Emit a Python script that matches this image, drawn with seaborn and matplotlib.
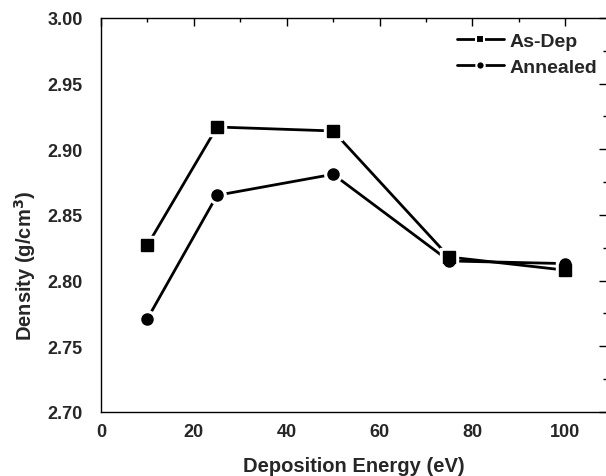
import matplotlib
matplotlib.use("Agg")
import matplotlib.pyplot as plt
import seaborn as sns
import pandas as pd
from matplotlib.lines import Line2D
from matplotlib.ticker import MultipleLocator

sns.set_theme(style="white")
plt.rcParams['font.family'] = ['Liberation Sans', 'DejaVu Sans']
plt.rcParams['font.weight'] = 'bold'

energy = [10, 25, 50, 75, 100]
as_dep = [2.827, 2.917, 2.914, 2.818, 2.808]
as_dep_err = [0.0, 0.0, 0.004, 0.0, 0.0]
annealed = [2.771, 2.865, 2.881, 2.815, 2.813]
series_names = ["As-Dep", "Annealed"]

df = pd.DataFrame({
    "energy": energy * 2,
    "density": as_dep + annealed,
    "series": [series_names[0]] * len(energy) + [series_names[1]] * len(energy),
})

W, H = 606, 477
fig = plt.figure(figsize=(W / 100, H / 100), dpi=100)
ax = fig.add_axes([101 / W, 1 - 413 / H, (607 - 101) / W, (413 - 19) / H])

sns.lineplot(data=df, x="energy", y="density", hue="series",
             palette=["black", "black"], linewidth=2.0, legend=False, ax=ax,
             zorder=2)

# error bar
ax.errorbar(energy, as_dep, yerr=as_dep_err, fmt="none", ecolor="black",
            elinewidth=1.0, capsize=4, capthick=1.0, zorder=3)

markers = {series_names[0]: "s", series_names[1]: "o"}
for name, vals in zip(series_names, [as_dep, annealed]):
    m = markers[name]
    ax.plot(energy, vals, linestyle="none", marker=m, markersize=12.5,
            markerfacecolor="white", markeredgecolor="white", zorder=4)
    ax.plot(energy, vals, linestyle="none", marker=m, markersize=8,
            markerfacecolor="black", markeredgecolor="black", zorder=5)

ax.set_xlim(0, 109)
ax.set_ylim(2.70, 3.00)
ax.xaxis.set_major_locator(MultipleLocator(20))
ax.xaxis.set_minor_locator(MultipleLocator(10))
ax.yaxis.set_major_locator(MultipleLocator(0.05))
ax.yaxis.set_minor_locator(MultipleLocator(0.025))
ax.yaxis.set_major_formatter(matplotlib.ticker.FormatStrFormatter("%.2f"))

ax.tick_params(which="both", direction="in", top=True, right=True,
               color="black", width=1.0)
ax.tick_params(which="major", length=6, labelsize=13)
ax.tick_params(which="minor", length=3)
ax.tick_params(axis="y", which="major", pad=13)
ax.tick_params(axis="x", which="major", pad=8)
for lab in ax.get_xticklabels() + ax.get_yticklabels():
    lab.set_fontweight("bold")
for sp in ax.spines.values():
    sp.set_color("black")
    sp.set_linewidth(1.0)

ax.set_xlabel("Deposition Energy (eV)", fontsize=14.5, fontweight="bold")
ax.set_ylabel("Density (g/cm$^\\mathbf{3}$)", fontsize=14.5, fontweight="bold")
ax.xaxis.set_label_coords(0.5, -(457 - 413) / (413 - 19))
ax.yaxis.set_label_coords(-(101 - 38) / (607 - 101), 1 - (266 - 19) / (413 - 19))

handles = [
    Line2D([0], [0], color="black", linewidth=2.0, marker="s", markersize=6,
           markerfacecolor="black", markeredgecolor="white", markeredgewidth=1.5),
    Line2D([0], [0], color="black", linewidth=2.0, marker="o", markersize=6,
           markerfacecolor="black", markeredgecolor="white", markeredgewidth=1.5),
]
leg = ax.legend(handles, series_names, loc="upper left",
                bbox_to_anchor=((457 - 101) / (607 - 101), 1 - (33 - 19) / (413 - 19)),
                frameon=False, fontsize=14, handlelength=2.4, handletextpad=0.3,
                labelspacing=0.45, borderaxespad=0, borderpad=0)
for t in leg.get_texts():
    t.set_fontweight("bold")

fig.savefig("out.png", dpi=100)
